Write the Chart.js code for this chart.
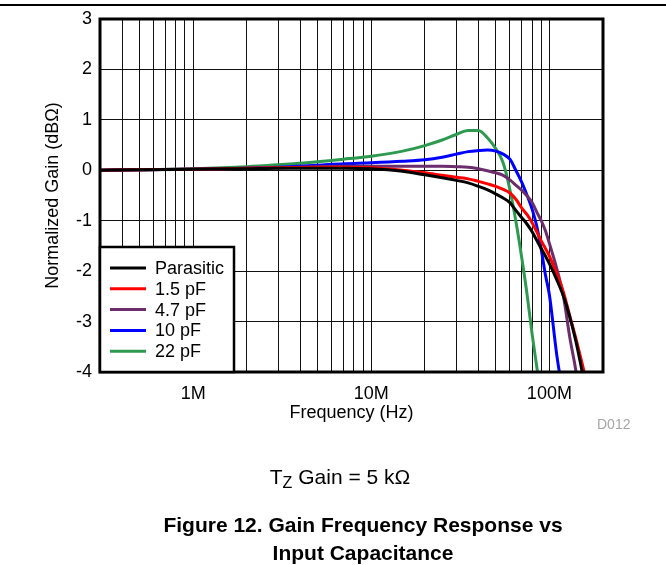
<!DOCTYPE html>
<html>
<head>
<meta charset="utf-8">
<script src="https://cdn.jsdelivr.net/npm/chart.js@4.4.0/dist/chart.umd.min.js"></script>
<style>
  body { margin: 0; background: #fff; width: 666px; height: 565px; position: relative; overflow: hidden; font-family: "Liberation Sans", Arial, sans-serif; }
  #chart { position: absolute; left: 0; top: 0; }
  .rule { position: absolute; left: 0; top: 4px; width: 666px; height: 2px; background: #000; }
  .code { position: absolute; left: 597px; top: 416px; font-size: 14px; line-height: 16px; color: #a6a6a6; }
  .cond { position: absolute; left: 7px; top: 466px; width: 666px; text-align: center; font-size: 21px; line-height: 21px; }
  .cond span { font-size: 16px; position: relative; top: 4px; }
  .caption { position: absolute; left: 30px; top: 511px; width: 666px; text-align: center; font-size: 21px; font-weight: bold; line-height: 27.6px; }
</style>
</head>
<body>
<div class="rule"></div>
<canvas id="chart" width="666" height="565"></canvas>
<div class="code">D012</div>
<div class="cond">T<span>Z</span> Gain = 5 kΩ</div>
<div class="caption">Figure 12. Gain Frequency Response vs<br>Input Capacitance</div>
<script>
// data (frequency in MHz, gain in dB) //
const freqMHz = [0.3, 0.5, 1, 2, 3, 5, 7, 10, 15, 20, 25, 30, 35, 40, 45, 50, 55, 60, 65, 70, 75, 80, 85, 90, 95, 100, 110, 120, 130, 140, 150, 160];

const gainParasitic = [0, 0.01, 0.02, 0.03, 0.04, 0.04, 0.04, 0.03, -0.02, -0.09, -0.15, -0.2, -0.25, -0.32, -0.39, -0.47, -0.55, -0.64, -0.8, -0.94, -1.07, -1.22, -1.39, -1.55, -1.7, -1.85, -2.17, -2.5, -2.9, -3.35, -3.85, -4.35];
const gain1p5 = [0, 0.01, 0.02, 0.04, 0.05, 0.06, 0.06, 0.05, 0.0, -0.05, -0.1, -0.14, -0.17, -0.22, -0.27, -0.32, -0.38, -0.45, -0.58, -0.75, -0.88, -1.04, -1.22, -1.4, -1.55, -1.7, -2.05, -2.42, -2.88, -3.3, -3.72, -4.13];
const gain4p7 = [0, 0.01, 0.02, 0.04, 0.05, 0.07, 0.08, 0.08, 0.08, 0.08, 0.08, 0.07, 0.06, 0.03, -0.01, -0.05, -0.1, -0.19, -0.3, -0.4, -0.51, -0.64, -0.83, -1.0, -1.2, -1.45, -1.95, -2.5, -3.3, -3.92, -4.6, null];
const gain10 = [0, 0.01, 0.02, 0.04, 0.06, 0.1, 0.13, 0.15, 0.18, 0.21, 0.26, 0.32, 0.37, 0.39, 0.4, 0.38, 0.32, 0.22, -0.01, -0.24, -0.5, -0.77, -1.11, -1.57, -2.07, -2.47, -3.66, -4.5, null, null, null, null];
const gain22 = [0, 0.01, 0.03, 0.07, 0.11, 0.17, 0.22, 0.28, 0.38, 0.49, 0.6, 0.71, 0.79, 0.79, 0.64, 0.43, 0.15, -0.38, -1.03, -1.74, -2.47, -3.25, -3.9, -4.5, null, null, null, null, null, null, null, null];

const seriesNames = ['Parasitic', '1.5 pF', '4.7 pF', '10 pF', '22 pF'];
const seriesColors = ['#000000', '#ff0000', '#6b2d6b', '#0000ff', '#2e9a50'];
const seriesGains = [gainParasitic, gain1p5, gain4p7, gain10, gain22];

const xTickValues = [1e6, 1e7, 1e8];
const xTickLabels = ['1M', '10M', '100M'];

const FONT = '"Liberation Sans", Arial, sans-serif';

function toPoints(gains) {
  const pts = [];
  gains.forEach((g, i) => {
    if (g !== null) pts.push({ x: freqMHz[i] * 1e6, y: g });
  });
  return pts;
}

// border round the plot + legend box inside it //
const frameAndLegend = {
  id: 'frameAndLegend',
  afterDatasetsDraw(chart) {
    const { ctx, chartArea } = chart;
    ctx.save();
    ctx.strokeStyle = '#000';
    ctx.lineWidth = 3;
    ctx.strokeRect(chartArea.left, chartArea.top, chartArea.right - chartArea.left, chartArea.bottom - chartArea.top);

    const w = 134, h = 125;
    const x = chartArea.left, y = chartArea.bottom - h;
    ctx.fillStyle = '#fff';
    ctx.fillRect(x, y, w, h);
    ctx.lineWidth = 2.5;
    ctx.strokeRect(x, y, w, h);
    ctx.font = '18px ' + FONT;
    ctx.textBaseline = 'middle';
    chart.data.datasets.forEach((ds, i) => {
      const ry = y + 21 + i * 20.8;
      ctx.strokeStyle = ds.borderColor;
      ctx.lineWidth = 3;
      ctx.beginPath();
      ctx.moveTo(x + 10, ry);
      ctx.lineTo(x + 46, ry);
      ctx.stroke();
      ctx.fillStyle = '#000';
      ctx.fillText(ds.label, x + 55, ry + 1);
    });
    ctx.restore();
  }
};

new Chart(document.getElementById('chart'), {
  type: 'line',
  data: {
    datasets: seriesNames.map((name, i) => ({
      label: name,
      data: toPoints(seriesGains[i]),
      borderColor: seriesColors[i],
      borderWidth: 3,
      pointRadius: 0,
      fill: false,
      cubicInterpolationMode: 'monotone'
    }))
  },
  options: {
    responsive: false,
    animation: false,
    devicePixelRatio: 1,
    layout: { padding: { top: 19, right: 63, bottom: 141, left: 0 } },
    plugins: { legend: { display: false }, tooltip: { enabled: false } },
    scales: {
      x: {
        type: 'logarithmic',
        min: 3e5,
        max: 2e8,
        afterBuildTicks(scale) {
          const ticks = [];
          for (let d = 1e5; d <= 1e8; d *= 10) {
            for (let m = 1; m <= 9; m++) {
              const v = d * m;
              if (v >= 3e5 && v <= 2e8) ticks.push({ value: v });
            }
          }
          scale.ticks = ticks;
        },
        afterFit(scale) { scale.height = 52; },
        grid: { color: '#111', lineWidth: 1, drawTicks: false },
        border: { display: false },
        ticks: {
          autoSkip: false,
          maxRotation: 0,
          padding: 11,
          color: '#000',
          font: { family: FONT, size: 18 },
          callback(value) {
            const k = xTickValues.findIndex(t => Math.abs(t - value) < t * 1e-6);
            return k >= 0 ? xTickLabels[k] : '';
          }
        },
        title: { display: true, text: 'Frequency (Hz)', color: '#000', padding: 0, font: { family: FONT, size: 18 } }
      },
      y: {
        min: -4,
        max: 3,
        afterFit(scale) { scale.width = 100; },
        grid: { color: '#111', lineWidth: 1, drawTicks: false },
        border: { display: false },
        ticks: { stepSize: 1, padding: 8, color: '#000', font: { family: FONT, size: 18 } },
        title: { display: true, text: 'Normalized Gain (dBΩ)', color: '#000', padding: { top: 42, bottom: 0 }, font: { family: FONT, size: 18 } }
      }
    }
  },
  plugins: [frameAndLegend]
});
</script>
</body>
</html>
